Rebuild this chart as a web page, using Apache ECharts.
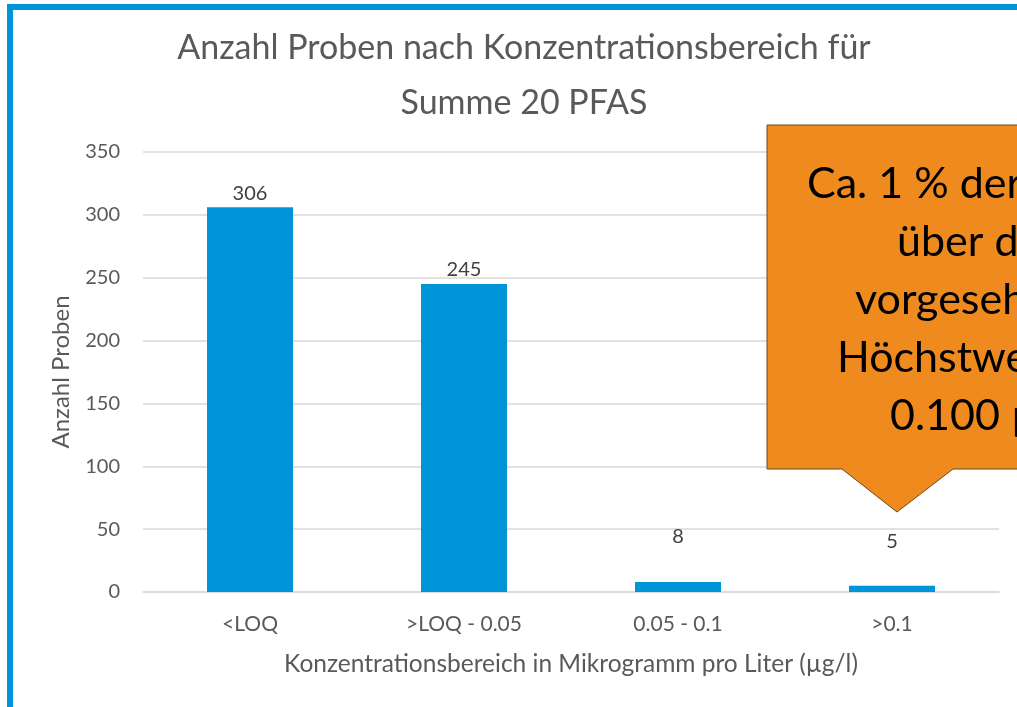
<!DOCTYPE html>
<html>
<head>
<meta charset="utf-8">
<script src="https://cdn.jsdelivr.net/npm/echarts@6/dist/echarts.min.js"></script>
<style>
  html, body { margin: 0; padding: 0; background: #ffffff; }
  #chart { width: 1017px; height: 707px; }
</style>
</head>
<body>
<div id="chart"></div>
<script>
// Kategorien und Werte
var categories = ["<LOQ", ">LOQ - 0.05", "0.05 - 0.1", ">0.1"];
var counts = [306, 245, 8, 5];
var yTicks = [0, 50, 100, 150, 200, 250, 300, 350];
var calloutLines = ["Ca. 1 % der Proben", "über dem", "vorgesehenen", "Höchstwert von", "0.100 µg/l"];

var font = "Lato";
var chart = echarts.init(document.getElementById("chart"));

// kleine Balken: Label weiter oben (wie im Original)
var labelOffsets = [[0, 0], [0, 0], [0, -31], [0, -30]];
var barData = counts.map(function (v, i) {
  return { value: v, label: { offset: labelOffsets[i] } };
});

// Sprechblase
var calloutX = [807, 897, 855, 837, 890];
var calloutGraphics = [
  {
    type: "polygon",
    z: 10,
    shape: {
      points: [[767, 125], [1180, 125], [1180, 469], [953, 469], [897, 512], [842, 469], [767, 469]]
    },
    style: { fill: "#ee8a1e", stroke: "#6b4a1e", lineWidth: 1 }
  }
];
calloutLines.forEach(function (t, i) {
  calloutGraphics.push({
    type: "text",
    z: 11,
    x: calloutX[i],
    y: 184 + i * 58,
    style: {
      text: t,
      fill: "#000000",
      font: "43px " + font,
      textAlign: "left",
      textVerticalAlign: "middle"
    }
  });
});

var option = {
  backgroundColor: "#ffffff",
  animation: false,
  title: {
    text: "Anzahl Proben nach Konzentrationsbereich für\nSumme 20 PFAS",
    left: 519,
    top: 16,
    textAlign: "center",
    textStyle: {
      fontFamily: font,
      fontSize: 34,
      fontWeight: "normal",
      color: "#595959",
      lineHeight: 55
    }
  },
  grid: { left: 143, right: 18, top: 152, bottom: 115 },
  xAxis: {
    type: "category",
    data: categories,
    name: "Konzentrationsbereich in Mikrogramm pro Liter (µg/l)",
    nameLocation: "middle",
    nameGap: 60,
    nameTextStyle: { fontFamily: font, fontSize: 24.5, color: "#595959" },
    axisLine: { lineStyle: { color: "#d9d9d9", width: 1.5 } },
    axisTick: { show: false },
    axisLabel: { margin: 22, fontFamily: font, fontSize: 21, color: "#595959" }
  },
  yAxis: {
    type: "value",
    min: yTicks[0],
    max: yTicks[yTicks.length - 1],
    interval: 50,
    name: "Anzahl Proben",
    nameLocation: "middle",
    nameGap: 70,
    nameTextStyle: { fontFamily: font, fontSize: 24, color: "#595959" },
    axisLine: { show: false },
    axisTick: { show: false },
    splitLine: { lineStyle: { color: "#d9d9d9", width: 1.5 } },
    axisLabel: { margin: 23, fontFamily: font, fontSize: 20, color: "#595959" }
  },
  series: [
    {
      type: "bar",
      data: barData,
      barWidth: 86,
      itemStyle: { color: "#0095d8" },
      label: {
        show: true,
        position: "top",
        distance: 4,
        fontFamily: font,
        fontSize: 20,
        color: "#404040"
      }
    }
  ],
  graphic: [
    {
      type: "rect",
      z: 20,
      shape: { x: 10, y: 7, width: 1200, height: 900 },
      style: { fill: "none", stroke: "#0095d8", lineWidth: 6 }
    }
  ].concat(calloutGraphics)
};

chart.setOption(option);
</script>
</body>
</html>
